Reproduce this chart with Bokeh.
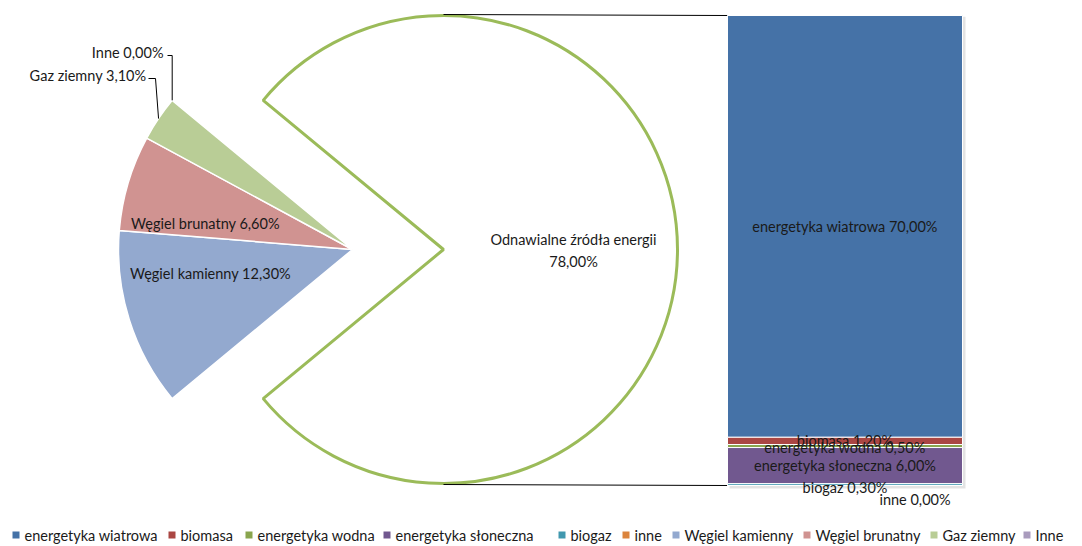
import math
from bokeh.plotting import figure
from bokeh.models import Range1d, ColumnDataSource
from bokeh.core.properties import value
from bokeh.embed import file_html
from bokeh.resources import INLINE

# ---------------- data ----------------
pie_labels = ["Węgiel kamienny", "Węgiel brunatny", "Gaz ziemny", "Inne"]
pie_values = [12.3, 6.6, 3.1, 0.0]
pie_colors = ["#93A9CF", "#D09391", "#B9CD96", "#A99BBD"]
other_label = "Odnawialne źródła energii"
other_value = 78.0

bar_labels = ["energetyka wiatrowa", "biomasa", "energetyka wodna",
              "energetyka słoneczna", "biogaz", "inne"]
bar_values = [70.0, 1.2, 0.5, 6.0, 0.3, 0.0]
bar_colors = ["#4572A7", "#AA4643", "#89A54E", "#71588F", "#4198AF", "#DB843D"]


def fmt(v):
    return f"{v:.2f}".replace(".", ",") + "%"


FONT = value("Lato")
FS = "14.5px"
TXT = "#1A1A1A"

W, H = 1082, 546

# picture-coordinate helper: data y = H - picture y
def Y(py):
    return H - py

p = figure(width=W, height=H, output_backend="svg", toolbar_location=None,
           x_range=Range1d(0, W), y_range=Range1d(0, H),
           min_border=0, outline_line_color=None)
p.xaxis.visible = False
p.yaxis.visible = False
p.grid.visible = False
p.background_fill_color = "white"
p.border_fill_color = "white"

# ---------------- pie ----------------
R = 234
cx_small, cx_big, cy = 352, 443, Y(249)
total = sum(pie_values) + other_value
half = math.pi * other_value / total

# big "other" slice (exploded, white with green outline)
p.wedge(x=cx_big, y=cy, radius=R, start_angle=-half, end_angle=half,
        fill_color="white", line_color="#9BBB59", line_width=3)

# small slices, clockwise from the bottom edge of the gap
starts, ends, mids = [], [], []
cur = 2 * math.pi - half
for v in pie_values:
    a = 2 * math.pi * v / total
    ends.append(cur)
    starts.append(cur - a)
    mids.append(cur - a / 2)
    cur -= a
keep = [i for i, v in enumerate(pie_values) if v > 0]
src = ColumnDataSource(dict(s=[starts[i] for i in keep], e=[ends[i] for i in keep],
                            c=[pie_colors[i] for i in keep]))
p.wedge(x=cx_small, y=cy, radius=R, start_angle="s", end_angle="e",
        fill_color="c", line_color="white", line_width=1.5, source=src)

# pie labels inside
inside_pos = {0: (210, 273), 1: (205, 223)}
for i, (x, py) in inside_pos.items():
    txt = f"{pie_labels[i]} {fmt(pie_values[i])}"
    p.text(x=[x], y=[Y(py)], text=[txt], text_font=FONT, text_font_size=FS,
           text_color=TXT, text_align="center", text_baseline="middle")

# outside labels with leader lines
outside = {2: ((146, 75), (148, 155, 78)), 3: ((163, 52), (167, 174, 55))}
for i, ((tx, ty), (lx0, lx1, ly)) in outside.items():
    txt = f"{pie_labels[i]} {fmt(pie_values[i])}"
    p.text(x=[tx], y=[Y(ty)], text=[txt], text_font=FONT, text_font_size=FS,
           text_color=TXT, text_align="right", text_baseline="middle")
    ax = cx_small + R * math.cos(mids[i])
    ay = cy + R * math.sin(mids[i])
    if i == 3:
        lx1 = ax
    p.line(x=[lx0, lx1, ax], y=[Y(ly), Y(ly), ay], line_color="black", line_width=1)

# other label
p.text(x=[573], y=[Y(239)], text=[other_label], text_font=FONT, text_font_size=FS,
       text_color=TXT, text_align="center", text_baseline="middle")
p.text(x=[573], y=[Y(261)], text=[fmt(other_value)], text_font=FONT, text_font_size=FS,
       text_color=TXT, text_align="center", text_baseline="middle")

# ---------------- bar ----------------
bar_top_py, bar_bot_py = 15, 485
bar_left, bar_right = 727, 962
bar_total = sum(bar_values)
k = (bar_bot_py - bar_top_py) / bar_total
p.extra_y_ranges = {"bar": Range1d(start=(bar_bot_py - H) / k, end=bar_bot_py / k)}

# connector lines
p.line(x=[cx_big, bar_left], y=[Y(14), Y(bar_top_py)], line_color="black", line_width=1)
p.line(x=[cx_big, bar_left], y=[Y(484), Y(bar_bot_py)], line_color="black", line_width=1)

# shadow
p.quad(left=bar_left + 2, right=bar_right + 3, bottom=-0.5, top=bar_total - 0.2,
       fill_color="#E3E3E3", line_color=None, y_range_name="bar")

bottoms, tops = [0.0] * len(bar_values), [0.0] * len(bar_values)
cum = 0.0
for i in reversed(range(len(bar_values))):
    bottoms[i] = cum
    cum += bar_values[i]
    tops[i] = cum
bsrc = ColumnDataSource(dict(b=bottoms, t=tops, c=bar_colors,
                             m=[(b + t) / 2 for b, t in zip(bottoms, tops)],
                             lab=[f"{l} {fmt(v)}" for l, v in zip(bar_labels, bar_values)],
                             xo=[0, 0, 0, 0, 0, 70], yo=[0, 0, 1, 0, 3, 14]))
p.quad(left=bar_left, right=bar_right, bottom="b", top="t", fill_color="c",
       line_color="white", line_width=1, source=bsrc, y_range_name="bar")
p.text(x=(bar_left + bar_right) / 2, y="m", text="lab", x_offset="xo", y_offset="yo",
       text_font=FONT, text_font_size=FS, text_color=TXT, text_align="center",
       text_baseline="middle", source=bsrc, y_range_name="bar")

# ---------------- legend ----------------
leg_labels = bar_labels + pie_labels
leg_colors = bar_colors + pie_colors
leg_x = [12, 168, 245, 383, 558, 622, 672, 803, 930, 1023]
leg_py = 535
p.rect(x=[x + 3.5 for x in leg_x], y=[Y(leg_py) + 0.5] * len(leg_x), width=7, height=7,
       fill_color=leg_colors, line_color=None)
p.text(x=[x + 12 for x in leg_x], y=[Y(leg_py)] * len(leg_x), text=leg_labels,
       text_font=FONT, text_font_size=FS, text_color=TXT, text_align="left",
       text_baseline="middle")

open("out.html", "w").write(file_html(p, INLINE))
